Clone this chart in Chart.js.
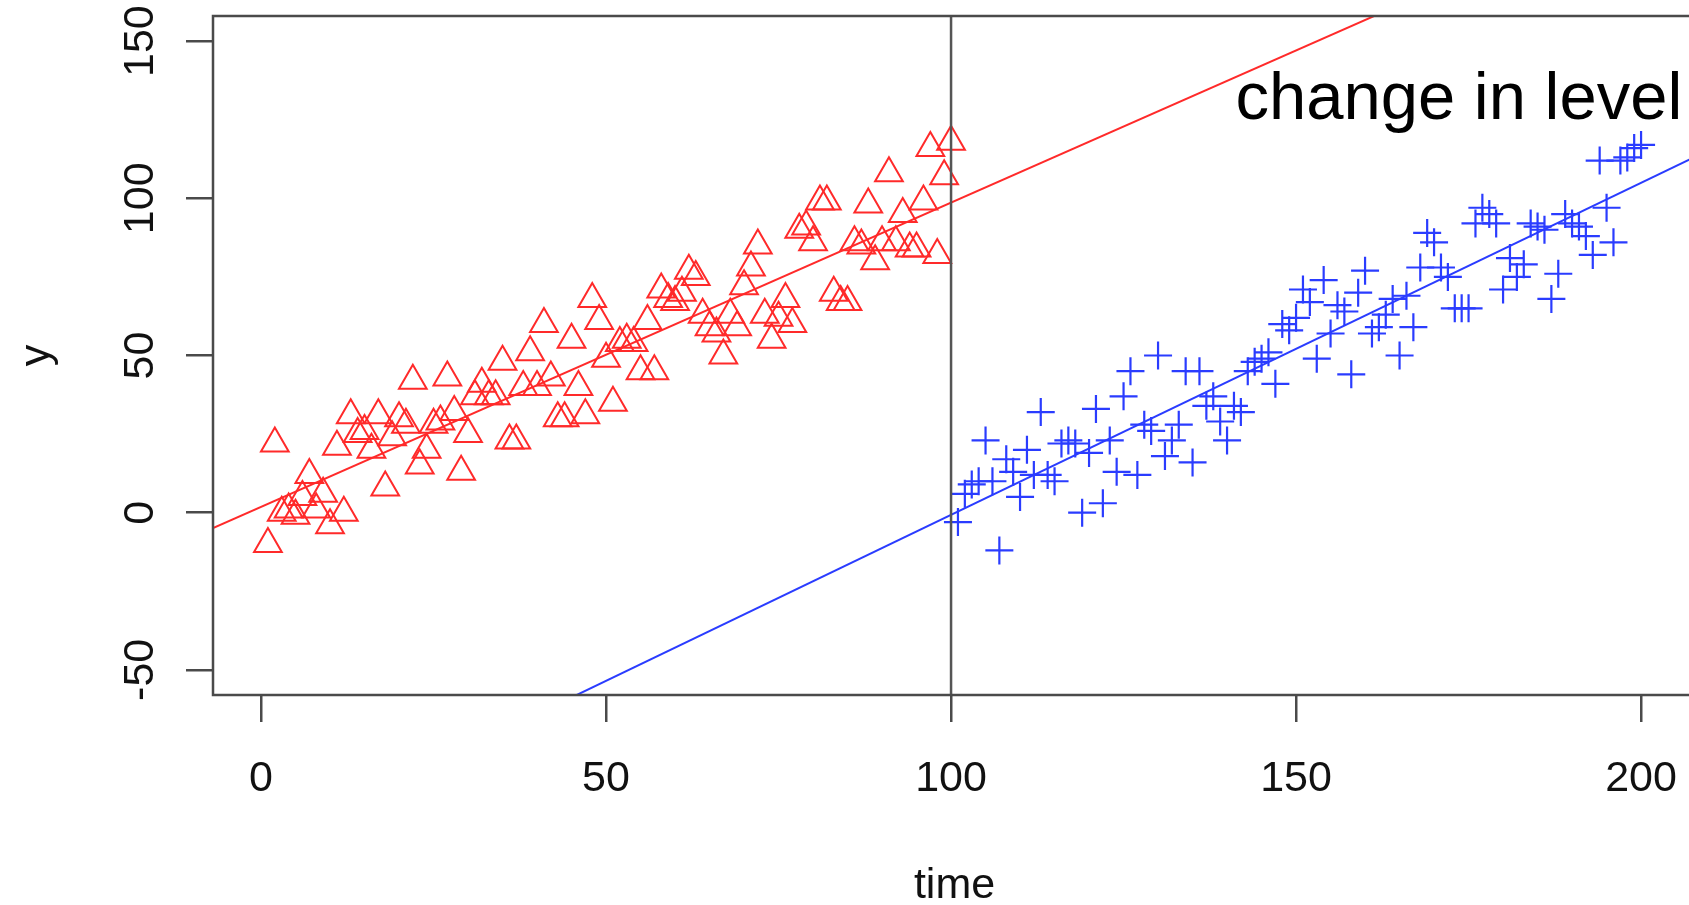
<!DOCTYPE html>
<html><head><meta charset="utf-8">
<script src="https://cdn.jsdelivr.net/npm/chart.js@4/dist/chart.umd.min.js"></script>
<style>html,body{margin:0;padding:0;overflow:hidden;background:#fff}
#c{display:block}</style></head>
<body><canvas id="c" width="1697" height="905" style="width:1697px;height:905px"></canvas>
<script>
// ---- data ----
const redTime = [1,2,3,4,5,6,7,8,9,10,11,12,13,14,15,16,17,18,19,20,21,22,23,24,25,26,27,28,29,30,31,32,33,34,35,36,37,38,39,40,41,42,43,44,45,46,47,48,49,50,51,52,53,54,55,56,57,58,59,60,61,62,63,64,65,66,67,68,69,70,71,72,73,74,75,76,77,78,79,80,81,82,83,84,85,86,87,88,89,90,91,92,93,94,95,96,97,98,99,100];
const redY = [-10,22,0,1,-1,5,12,1,6,-4,21,0,31,25,26,20,31,8,24,30,28,42,15,20,28,29,43,32,13,25,37,41,37,37,48,23,23,40,51,40,60,43,30,30,55,40,31,68,61,49,35,54,55,54,45,61,45,71,68,67,70,77,75,63,59,57,50,63,59,72,78,85,63,55,62,68,60,90,91,86,99,99,70,67,67,86,85,98,80,86,108,86,95,84,84,99,116,82,107,118];
const blueTime = [101,102,103,104,105,106,107,108,109,110,111,112,113,114,115,116,117,118,119,120,121,122,123,124,125,126,127,128,129,130,131,132,133,134,135,136,137,138,139,140,141,142,143,144,145,146,147,148,149,150,151,152,153,154,155,156,157,158,159,160,161,162,163,164,165,166,167,168,169,170,171,172,173,174,175,176,177,178,179,180,181,182,183,184,185,186,187,188,189,190,191,192,193,194,195,196,197,198,199,200];
const blueY = [-3,6,9,10,23,10,-12,17,13,5,20,12,32,12,10,22,23,22,0,19,33,3,23,13,37,45,12,28,26,50,18,23,28,45,16,45,34,37,29,23,34,32,45,48,49,51,41,60,58,62,71,67,49,74,57,66,64,44,70,77,57,59,63,68,50,69,59,78,89,86,78,75,65,65,65,92,97,95,92,71,81,75,79,92,91,90,68,76,95,92,91,88,82,112,97,86,112,113,116,117];
const redFit = [1.84, 0.968];     // intercept, slope
const blueFit = [-106.3, 1.056];  // intercept, slope
const changeTime = [100];
const xTicks = [0, 50, 100, 150, 200];
const yTicks = [-50, 0, 50, 100, 150];
const xRange = [-6.96, 207.96];
const yRange = [-58, 158];
const annotation = {text: 'change in level', x: 173.6, y: 131};

// ---- build ----
const pts = (xs, ys) => xs.map((v, i) => ({x: v, y: ys[i]}));
const fitLine = f => xRange.map(v => ({x: v, y: f[0] + f[1] * v}));
const FONT = '"Liberation Sans", Arial, sans-serif';
const noPad = s => { s.paddingTop = 0; s.paddingBottom = 0; s.paddingLeft = 0; s.paddingRight = 0; };

const boxPlugin = {
  id: 'boxAndText',
  afterDatasetsDraw(chart) {
    const {ctx, chartArea: a, scales: {x, y}} = chart;
    ctx.save();
    ctx.strokeStyle = '#4a4a4a';
    ctx.lineWidth = 2.5;
    ctx.strokeRect(a.left, a.top, a.right - a.left, a.bottom - a.top);
    ctx.font = '67px ' + FONT;
    ctx.fillStyle = '#000';
    ctx.textAlign = 'center';
    ctx.textBaseline = 'middle';
    ctx.fillText(annotation.text, x.getPixelForValue(annotation.x), y.getPixelForValue(annotation.y));
    ctx.restore();
  }
};

new Chart(document.getElementById('c'), {
  type: 'scatter',
  data: {
    datasets: [
      {data: changeTime.flatMap(t => yRange.map(v => ({x: t, y: v}))), showLine: true,
       borderColor: '#555', borderWidth: 2.5, pointRadius: 0},
      {data: fitLine(redFit), showLine: true, borderColor: '#ff2a2a', borderWidth: 2, pointRadius: 0},
      {data: fitLine(blueFit), showLine: true, borderColor: '#2a3cff', borderWidth: 2, pointRadius: 0},
      {data: pts(redTime, redY), pointStyle: 'triangle', pointRadius: 16, pointBorderWidth: 2,
       pointBorderColor: '#ff2a2a', pointBackgroundColor: 'rgba(0,0,0,0)', showLine: false},
      {data: pts(blueTime, blueY), pointStyle: 'cross', pointRadius: 14, pointBorderWidth: 2.2,
       pointBorderColor: '#2a3cff', pointBackgroundColor: 'rgba(0,0,0,0)', showLine: false}
    ]
  },
  options: {
    responsive: false, maintainAspectRatio: false, animation: false, devicePixelRatio: 1,
    layout: {autoPadding: false, padding: {top: 16, right: 1, left: 0, bottom: 0}},
    plugins: {legend: {display: false}, tooltip: {enabled: false}},
    scales: {
      x: {
        type: 'linear', min: xRange[0], max: xRange[1],
        afterBuildTicks: s => { s.ticks = xTicks.map(v => ({value: v})); },
        afterFit: s => { s.height = 210; noPad(s); },
        grid: {drawOnChartArea: false, drawTicks: true, tickLength: 27, color: '#4a4a4a', lineWidth: 2.5},
        border: {display: false},
        ticks: {font: {family: FONT, size: 43}, color: '#111', padding: 31, maxRotation: 0, autoSkip: false},
        title: {display: true, text: 'time', font: {family: FONT, size: 43}, color: '#111', padding: {top: 0, bottom: -7}}
      },
      y: {
        type: 'linear', min: yRange[0], max: yRange[1],
        afterBuildTicks: s => { s.ticks = yTicks.map(v => ({value: v})); },
        afterFit: s => { s.width = 213; noPad(s); },
        grid: {drawOnChartArea: false, drawTicks: true, tickLength: 27, color: '#4a4a4a', lineWidth: 2.5},
        border: {display: false},
        ticks: {font: {family: FONT, size: 43}, color: '#111', padding: 9, minRotation: 90, maxRotation: 90, crossAlign: 'center', autoSkip: false},
        title: {display: true, text: 'y', font: {family: FONT, size: 43}, color: '#111', padding: {top: 11, bottom: 0}}
      }
    }
  },
  plugins: [boxPlugin]
});
</script></body></html>
